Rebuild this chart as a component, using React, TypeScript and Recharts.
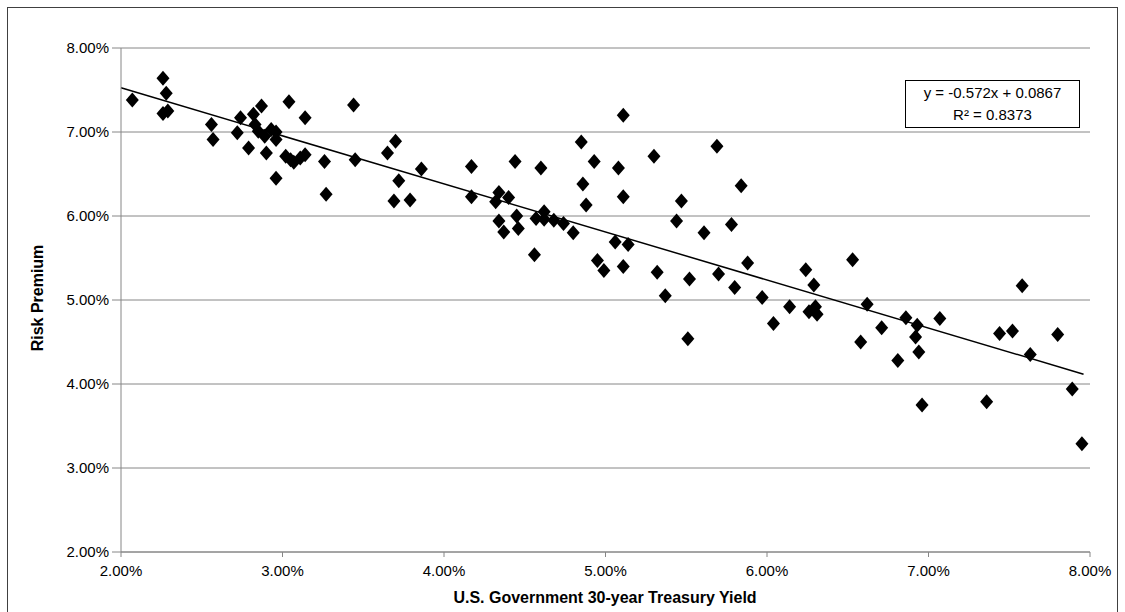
import React from "react";
import {
  ScatterChart,
  Scatter,
  XAxis,
  YAxis,
  CartesianGrid,
  ReferenceLine,
} from "recharts";

// 30-year treasury yield (%) and risk premium (%) per observation
const yields = [
  2.07, 2.26, 2.28, 2.26, 2.29, 2.56, 2.57, 2.72, 2.74, 2.79, 2.82, 2.83, 2.85,
  2.87, 2.89, 2.9, 2.93, 2.96, 2.96, 2.96, 3.02, 3.04, 3.05, 3.07, 3.11, 3.14,
  3.14, 3.26, 3.27, 3.44, 3.45, 3.65, 3.69, 3.7, 3.72, 3.79, 3.86, 4.17, 4.17,
  4.32, 4.34, 4.34, 4.37, 4.4, 4.44, 4.45, 4.46, 4.56, 4.57, 4.6, 4.62, 4.62,
  4.68, 4.74, 4.8, 4.85, 4.86, 4.88, 4.93, 4.95, 4.99, 5.06, 5.08, 5.11, 5.11,
  5.11, 5.14, 5.3, 5.32, 5.37, 5.44, 5.47, 5.51, 5.52, 5.61, 5.69, 5.7, 5.78,
  5.8, 5.84, 5.88, 5.97, 6.04, 6.14, 6.24, 6.26, 6.29, 6.3, 6.31, 6.53, 6.58,
  6.62, 6.71, 6.81, 6.86, 6.92, 6.93, 6.94, 6.96, 7.07, 7.36, 7.44, 7.52, 7.58,
  7.63, 7.8, 7.89, 7.95,
];
const premiums = [
  7.38, 7.64, 7.46, 7.22, 7.25, 7.09, 6.91, 6.99, 7.17, 6.81, 7.21, 7.09, 7.01,
  7.31, 6.95, 6.75, 7.03, 7.0, 6.91, 6.45, 6.71, 7.36, 6.67, 6.64, 6.69, 6.73,
  7.17, 6.65, 6.26, 7.32, 6.67, 6.75, 6.18, 6.89, 6.42, 6.19, 6.56, 6.59, 6.23,
  6.17, 6.28, 5.94, 5.81, 6.22, 6.65, 6.0, 5.85, 5.54, 5.97, 6.57, 6.05, 5.96,
  5.95, 5.91, 5.8, 6.88, 6.38, 6.13, 6.65, 5.47, 5.35, 5.69, 6.57, 7.2, 6.23,
  5.4, 5.66, 6.71, 5.33, 5.05, 5.94, 6.18, 4.54, 5.25, 5.8, 6.83, 5.31, 5.9,
  5.15, 6.36, 5.44, 5.03, 4.72, 4.92, 5.36, 4.86, 5.18, 4.92, 4.83, 5.48, 4.5,
  4.95, 4.67, 4.28, 4.79, 4.56, 4.7, 4.38, 3.75, 4.78, 3.79, 4.6, 4.63, 5.17,
  4.35, 4.59, 3.94, 3.29,
];

const axisTicks = [0.02, 0.03, 0.04, 0.05, 0.06, 0.07, 0.08];

// linear trendline from the chart's equation
const slope = -0.572;
const intercept = 0.0867;
const trendStart = 0.02;
const trendEnd = 0.0796;

const points = yields.map((x, i) => ({ x: x / 100, y: premiums[i] / 100 }));

const pct = (v: number) => (v * 100).toFixed(2) + "%";

const FONT = "'Liberation Sans', Arial, sans-serif";
const GRID = "#868686";

function Diamond(props: any) {
  const { cx, cy } = props;
  if (cx == null || cy == null) return null;
  const w = 6.5;
  const h = 7.5;
  return (
    <polygon
      points={`${cx},${cy - h} ${cx + w},${cy} ${cx},${cy + h} ${cx - w},${cy}`}
      fill="#000"
    />
  );
}

export default function App() {
  return (
    <div
      style={{
        position: "absolute",
        left: 0,
        top: 0,
        width: 1125,
        height: 612,
        overflow: "hidden",
        background: "#fff",
        fontFamily: FONT,
      }}
    >
      <div
        style={{
          position: "absolute",
          left: 7,
          top: 7,
          width: 1111,
          height: 640,
          border: "1px solid #404040",
          boxSizing: "border-box",
        }}
      />
      <div style={{ position: "absolute", left: 0, top: 0 }}>
        <ScatterChart
          width={1125}
          height={612}
          margin={{ top: 48, right: 35, bottom: 30, left: 61 }}
        >
          <CartesianGrid vertical={false} stroke={GRID} strokeWidth={1} />
          <XAxis
            type="number"
            dataKey="x"
            domain={[0.02, 0.08]}
            ticks={axisTicks}
            tickFormatter={pct}
            height={30}
            tickSize={5}
            tickMargin={8}
            axisLine={{ stroke: GRID }}
            tickLine={{ stroke: GRID }}
            tick={{ fill: "#000", fontSize: 15, fontFamily: FONT }}
            interval={0}
          />
          <YAxis
            type="number"
            dataKey="y"
            domain={[0.02, 0.08]}
            ticks={axisTicks}
            tickFormatter={pct}
            width={60}
            tickSize={9}
            tickMargin={3}
            axisLine={{ stroke: GRID }}
            tickLine={{ stroke: GRID }}
            tick={{ fill: "#000", fontSize: 15, fontFamily: FONT }}
            interval={0}
          />
          <ReferenceLine
            segment={[
              { x: trendStart, y: slope * trendStart + intercept },
              { x: trendEnd, y: slope * trendEnd + intercept },
            ]}
            stroke="#000"
            strokeWidth={1.5}
            ifOverflow="visible"
          />
          <Scatter
            data={points}
            shape={<Diamond />}
            isAnimationActive={false}
          />
        </ScatterChart>
      </div>
      <div
        style={{
          position: "absolute",
          left: 38,
          top: 298,
          transform: "translate(-50%, -50%) rotate(-90deg)",
          whiteSpace: "nowrap",
          fontWeight: "bold",
          fontSize: 16,
          color: "#000",
        }}
      >
        Risk Premium
      </div>
      <div
        style={{
          position: "absolute",
          left: 605,
          top: 598,
          transform: "translate(-50%, -50%)",
          whiteSpace: "nowrap",
          fontWeight: "bold",
          fontSize: 16,
          color: "#000",
        }}
      >
        U.S. Government 30-year Treasury Yield
      </div>
      <div
        style={{
          position: "absolute",
          left: 905,
          top: 80,
          width: 175,
          height: 48,
          border: "1px solid #000",
          boxSizing: "border-box",
          textAlign: "center",
          fontSize: 15,
          lineHeight: "22px",
          color: "#000",
          paddingTop: 1,
        }}
      >
        <div>y = -0.572x + 0.0867</div>
        <div>R² = 0.8373</div>
      </div>
    </div>
  );
}
